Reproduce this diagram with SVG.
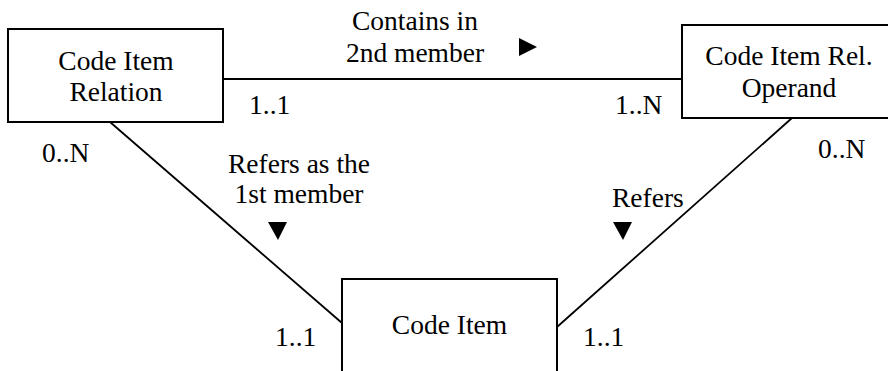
<svg xmlns="http://www.w3.org/2000/svg" width="888" height="371" viewBox="0 0 888 371">
<style>
.box{fill:#fff;stroke:#000;stroke-width:2}
.ln{stroke:#000;stroke-width:1.8;fill:none}
text{font-family:"Liberation Serif","Times New Roman",serif;font-size:27.5px;fill:#000}
.m{text-anchor:middle}
.tri{fill:#000}
</style>
<rect width="888" height="371" fill="#fff"/>
<g id="connectors">
<line class="ln" x1="223" y1="79" x2="682" y2="79"/>
<line class="ln" x1="110" y1="122" x2="342" y2="323"/>
<line class="ln" x1="792" y1="118" x2="557" y2="327"/>
<polygon class="tri" points="519,38 519,56 537,47"/>
<polygon class="tri" points="268,222 287,222 278,240"/>
<polygon class="tri" points="613,222 632,222 623,240"/>
<text class="m" x="415" y="30">Contains in</text>
<text class="m" x="415" y="62">2nd member</text>
<text x="249" y="114">1..1</text>
<text x="615" y="114">1..N</text>
<text x="42" y="162">0..N</text>
<text x="818" y="158">0..N</text>
<text class="m" x="299" y="173">Refers as the</text>
<text class="m" x="299" y="203">1st member</text>
<text x="612" y="207">Refers</text>
<text x="275" y="346">1..1</text>
<text x="583" y="346">1..1</text>
</g>
<g id="node-relation">
<rect class="box" x="8" y="29" width="215" height="93"/>
<text class="m" x="116" y="70">Code Item</text>
<text class="m" x="116" y="101">Relation</text>
</g>
<g id="node-operand">
<rect class="box" x="682" y="25" width="215" height="93"/>
<text class="m" x="789" y="65">Code Item Rel.</text>
<text class="m" x="789" y="97">Operand</text>
</g>
<g id="node-codeitem">
<rect class="box" x="342" y="279" width="215" height="100"/>
<text class="m" x="449.5" y="334">Code Item</text>
</g>
</svg>
